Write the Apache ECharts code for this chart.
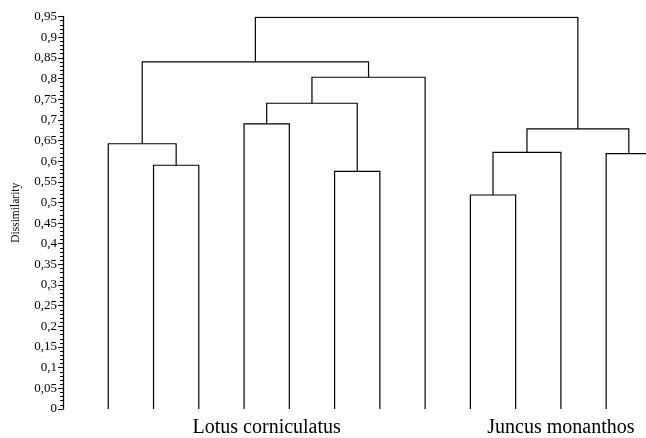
<!DOCTYPE html>
<html>
<head>
<meta charset="utf-8">
<script src="https://cdn.jsdelivr.net/npm/echarts@6/dist/echarts.min.js"></script>
<style>
html, body { margin: 0; padding: 0; background: #fff; }
#chart { width: 646px; height: 438px; }
</style>
</head>
<body>
<div id="chart"></div>
<script>
// leaves are numbered 0..12 from left to right
var leafCount = 13;
// merge steps: new node 13, 14, ... joins mergeLeft[k] and mergeRight[k] at mergeHeight[k]
var mergeLeft = [1, 0, 8, 5, 3, 11, 15, 19, 17, 21, 14, 23];
var mergeRight = [2, 13, 9, 6, 4, 12, 10, 18, 16, 7, 22, 20];
var mergeHeight = [0.59, 0.642, 0.518, 0.575, 0.69, 0.618, 0.621, 0.678, 0.74, 0.803, 0.84, 0.948];

// group labels under the leaves
var groupNames = ['Lotus corniculatus', 'Juncus monanthos'];
var groupFirstLeaf = [0, 8];
var groupLastLeaf = [7, 12];

var yMax = 0.95;
var yStep = 0.05;

var chart = echarts.init(document.getElementById('chart'));
var serif = '"Liberation Serif", "DejaVu Serif", serif';

// x position and height of every node
var nodeX = [];
var nodeH = [];
for (var i = 0; i < leafCount; i++) {
	nodeX.push(i);
	nodeH.push(0);
}
var links = [];
for (var k = 0; k < mergeLeft.length; k++) {
	var a = mergeLeft[k], b = mergeRight[k];
	links.push([nodeX[a], nodeH[a], nodeX[b], nodeH[b], mergeHeight[k]]);
	nodeX.push((nodeX[a] + nodeX[b]) / 2);
	nodeH.push(mergeHeight[k]);
}

var groupCenter = [];
for (var g = 0; g < groupNames.length; g++) {
	groupCenter.push((groupFirstLeaf[g] + groupLastLeaf[g]) / 2);
}

function renderLink(params, api) {
	var p1 = api.coord([api.value(0), api.value(1)]);
	var p2 = api.coord([api.value(0), api.value(4)]);
	var p3 = api.coord([api.value(2), api.value(4)]);
	var p4 = api.coord([api.value(2), api.value(3)]);
	return {
		type: 'polyline',
		shape: { points: [p1, p2, p3, p4] },
		style: { stroke: '#000', lineWidth: 1.2, fill: null }
	};
}

var option = {
	animation: false,
	backgroundColor: '#fff',
	grid: { left: 63, right: 0, top: 16.5, bottom: 28, containLabel: false },
	xAxis: {
		type: 'value',
		min: -1,
		max: 11.88,
		axisLine: { show: false },
		axisTick: { show: false },
		splitLine: { show: false },
		axisLabel: {
			customValues: groupCenter,
			margin: 9,
			color: '#000',
			fontFamily: serif,
			fontSize: 20,
			formatter: function (v) {
				var idx = groupCenter.indexOf(v);
				return idx >= 0 ? groupNames[idx] : '';
			}
		}
	},
	yAxis: {
		type: 'value',
		min: 0,
		max: yMax,
		interval: yStep,
		name: 'Dissimilarity',
		nameLocation: 'middle',
		nameGap: 41,
		nameTextStyle: { color: '#000', fontFamily: serif, fontSize: 11.5 },
		axisLine: { show: true, onZero: false, lineStyle: { color: '#000', width: 1.3 } },
		axisTick: { show: true, length: 5, lineStyle: { color: '#000', width: 1 } },
		minorTick: { show: true, splitNumber: 5, length: 3, lineStyle: { color: '#000', width: 1 } },
		splitLine: { show: false },
		axisLabel: {
			margin: 6,
			color: '#000',
			fontFamily: serif,
			fontSize: 13,
			formatter: function (v) {
				return String(+v.toFixed(2)).replace('.', ',');
			}
		}
	},
	series: [{
		type: 'custom',
		clip: true,
		renderItem: renderLink,
		data: links
	}]
};

chart.setOption(option);
</script>
</body>
</html>
